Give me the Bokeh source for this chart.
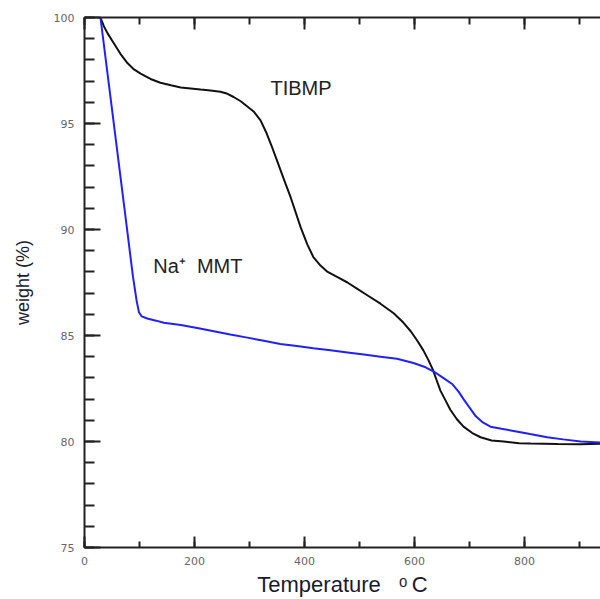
from bokeh.plotting import figure
from bokeh.models import LinearAxis, SingleIntervalTicker, Range1d, Label, CustomJSTickFormatter
from bokeh.embed import file_html
from bokeh.resources import INLINE

# ---- data ----
tibmp_t = [29, 35, 42, 53, 65, 78, 90, 102, 120, 138, 157, 175, 193, 211, 229, 247, 260, 271, 284, 296, 308,
           320, 330, 340, 350, 362, 375, 393, 405, 416, 429, 442, 460, 478, 496, 514, 538, 562, 580, 593,
           605, 616, 625, 633, 640, 647, 656, 665, 677, 689, 705, 720, 740, 762, 790, 811, 860, 902, 938]
tibmp_w = [100, 99.6, 99.25, 98.8, 98.3, 97.85, 97.55, 97.35, 97.1, 96.92, 96.8, 96.7, 96.65, 96.6, 96.56,
           96.5, 96.4, 96.25, 96.05, 95.8, 95.55, 95.15, 94.6, 93.95, 93.25, 92.4, 91.5, 90.1, 89.3, 88.7,
           88.3, 88.0, 87.75, 87.5, 87.2, 86.9, 86.5, 86.05, 85.6, 85.2, 84.75, 84.3, 83.85, 83.4, 82.9,
           82.4, 81.95, 81.5, 81.05, 80.7, 80.4, 80.2, 80.05, 80.0, 79.92, 79.9, 79.88, 79.87, 79.9]

mmt_t = [29, 45, 60, 75, 88, 95, 99, 104, 114, 130, 144, 175, 205, 235, 265, 296, 326, 356, 386, 416, 447,
         478, 508, 538, 568, 598, 620, 635, 652, 669, 680, 689, 700, 711, 724, 738, 758, 780, 810, 841, 870,
         902, 938]
mmt_w = [100, 96.7, 93.6, 90.5, 87.8, 86.6, 86.1, 85.9, 85.8, 85.7, 85.6, 85.5, 85.35, 85.2, 85.05, 84.9,
         84.75, 84.6, 84.5, 84.4, 84.3, 84.2, 84.1, 84.0, 83.9, 83.7, 83.5, 83.3, 83.0, 82.7, 82.35, 82.0,
         81.6, 81.2, 80.9, 80.7, 80.6, 80.5, 80.35, 80.2, 80.1, 80.0, 79.95]

x_start, x_end = 0, 938
y_start, y_end = 75, 100

label_tibmp = "TIBMP"
label_mmt = "Na\u207a\u00a0\u00a0MMT"
x_title = "Temperature\u00a0\u00a0\u00a0\u1d52\u2009C"
y_title = "weight (%)"

AXIS_COLOR = "#222222"
FONT = "Liberation Sans"

p = figure(width=600, height=599, output_backend="svg", toolbar_location=None,
           x_range=Range1d(x_start, x_end), y_range=Range1d(y_start, y_end),
           x_axis_location=None, y_axis_location=None,
           min_border_left=84, min_border_right=0, min_border_top=17, min_border_bottom=51)
p.outline_line_color = None
p.grid.visible = False
p.background_fill_color = "white"
p.border_fill_color = "white"

p.line(tibmp_t, tibmp_w, line_color="#111111", line_width=2)
p.line(mmt_t, mmt_w, line_color="#2020ff", line_width=2)

# left axis
yax = LinearAxis(ticker=SingleIntervalTicker(interval=5, num_minor_ticks=5))
yax.axis_label = y_title
yax.axis_label_text_font = FONT
yax.axis_label_text_font_size = "18px"
yax.axis_label_text_font_style = "normal"
yax.axis_label_text_color = "#1a1a2e"
yax.axis_label_standoff = 18
# bottom axis
xax = LinearAxis(ticker=SingleIntervalTicker(interval=200, num_minor_ticks=2))
xax.axis_label = x_title
xax.axis_label_text_font = FONT
xax.axis_label_text_font_size = "22px"
xax.axis_label_text_font_style = "normal"
xax.axis_label_text_color = "#1a1a2e"
xax.axis_label_standoff = 4
# top axis (ticks only)
tax = LinearAxis(ticker=SingleIntervalTicker(interval=200, num_minor_ticks=2),
                 formatter=CustomJSTickFormatter(code="return ''"))
tax.major_label_standoff = 0

for ax in (yax, xax, tax):
    ax.axis_line_color = AXIS_COLOR
    ax.axis_line_width = 2
    ax.major_tick_line_color = AXIS_COLOR
    ax.minor_tick_line_color = AXIS_COLOR
    ax.major_tick_line_width = 2
    ax.minor_tick_line_width = 2
    ax.major_tick_out = 0
    ax.minor_tick_out = 0
    ax.major_label_text_color = "#666666"
    ax.major_label_text_font = "DejaVu Sans"

yax.major_tick_in = 16
yax.minor_tick_in = 10
yax.major_label_text_font_size = "11px"
yax.major_label_standoff = 10
xax.major_tick_in = 11
xax.minor_tick_in = 6
xax.major_label_text_font_size = "11px"
xax.major_label_standoff = 9
tax.major_tick_in = 12
tax.minor_tick_in = 7

p.add_layout(yax, "left")
p.add_layout(xax, "below")
p.add_layout(tax, "above")

p.add_layout(Label(x=338, y=96.66, text=label_tibmp, text_font=FONT, text_font_size="20px",
                   text_color="#222222", text_baseline="middle", text_align="left"))
p.add_layout(Label(x=125, y=88.28, text=label_mmt, text_font=FONT, text_font_size="20px",
                   text_color="#222222", text_baseline="middle", text_align="left"))

open("out.html", "w").write(file_html(p, INLINE))
